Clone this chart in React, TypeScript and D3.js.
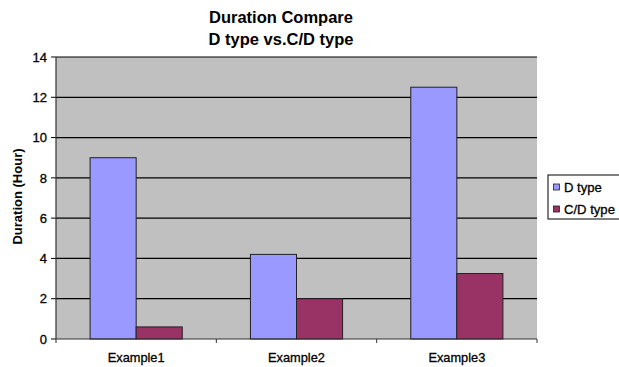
import React, { useEffect, useRef } from "react";
import * as d3 from "d3";

const categories = ["Example1", "Example2", "Example3"];
const seriesNames = ["D type", "C/D type"];
const dType = [9, 4.2, 12.5];
const cdType = [0.6, 2.0, 3.25];
const yTicks = [0, 2, 4, 6, 8, 10, 12, 14];
const colors = ["#9999ff", "#993366"];

export default function App() {
  const ref = useRef<SVGSVGElement>(null);
  useEffect(() => {
    const svg = d3.select(ref.current);
    svg.selectAll("*").remove();
    const W = 619, H = 367;
    const m = { l: 56, r: 537, t: 57, b: 339 };
    const font = "Liberation Sans, Arial, sans-serif";
    svg.append("rect").attr("width", W).attr("height", H).attr("fill", "#fff");

    const x = d3.scaleBand().domain(categories).range([m.l, m.r]).paddingInner(0).paddingOuter(0);
    const xs = d3.scaleBand().domain(seriesNames).range([0, x.bandwidth()]).paddingOuter(0.74).paddingInner(0);
    const y = d3.scaleLinear().domain([0, 14]).range([m.b, m.t]);

    svg.append("rect").attr("x", m.l).attr("y", m.t).attr("width", m.r - m.l).attr("height", m.b - m.t).attr("fill", "#c0c0c0");

    const txt = (sel: any) => sel.attr("font-family", font).attr("fill", "#000").attr("stroke", "#000").attr("stroke-width", 0.3);

    yTicks.forEach((t) => {
      if (t > 0) svg.append("line").attr("x1", m.l).attr("x2", m.r).attr("y1", y(t)).attr("y2", y(t)).attr("stroke", "#000").attr("stroke-width", 1.2);
      svg.append("line").attr("x1", m.l - 5).attr("x2", m.l).attr("y1", y(t)).attr("y2", y(t)).attr("stroke", "#000");
      txt(svg.append("text")).attr("x", 47).attr("y", y(t) + 4.7).attr("text-anchor", "end").attr("font-size", 13).text(String(t));
    });

    const series = [dType, cdType];
    categories.forEach((c, i) => {
      series.forEach((vals, s) => {
        svg.append("rect")
          .attr("x", (x(c) as number) + (xs(seriesNames[s]) as number))
          .attr("y", y(vals[i]))
          .attr("width", xs.bandwidth())
          .attr("height", y(0) - y(vals[i]))
          .attr("fill", colors[s])
          .attr("stroke", "#222")
          .attr("stroke-width", 1);
      });
      txt(svg.append("text")).attr("x", (x(c) as number) + x.bandwidth() / 2).attr("y", 362).attr("text-anchor", "middle").attr("font-size", 12.8).text(c);
    });

    // axes
    svg.append("line").attr("x1", m.l).attr("x2", m.l).attr("y1", m.t).attr("y2", m.b).attr("stroke", "#333").attr("stroke-width", 1.2);
    svg.append("line").attr("x1", m.l).attr("x2", m.r).attr("y1", m.b).attr("y2", m.b).attr("stroke", "#333").attr("stroke-width", 1.2);
    [...categories.map((c) => x(c) as number), m.r].forEach((xx) => {
      svg.append("line").attr("x1", xx).attr("x2", xx).attr("y1", m.b).attr("y2", m.b + 4).attr("stroke", "#333");
    });

    // title
    svg.append("text").attr("x", 281).attr("y", 23).attr("text-anchor", "middle").attr("font-family", font).attr("font-weight", "bold").attr("font-size", 16.5).text("Duration Compare");
    svg.append("text").attr("x", 281).attr("y", 45).attr("text-anchor", "middle").attr("font-family", font).attr("font-weight", "bold").attr("font-size", 16.5).text("D type vs.C/D type");

    // y label
    svg.append("text").attr("transform", `translate(22,${196.5}) rotate(-90)`).attr("text-anchor", "middle").attr("font-family", font).attr("font-weight", "bold").attr("font-size", 13).text("Duration (Hour)");

    // legend
    svg.append("rect").attr("x", 548).attr("y", 175).attr("width", 80).attr("height", 44).attr("fill", "#fff").attr("stroke", "#000");
    seriesNames.forEach((n, i) => {
      const yy = 187 + i * 22;
      svg.append("rect").attr("x", 553.5).attr("y", yy - 3).attr("width", 6).attr("height", 6).attr("fill", colors[i]).attr("stroke", "#222").attr("stroke-width", 0.8);
      txt(svg.append("text")).attr("x", 564).attr("y", yy + 5).attr("font-size", 13.1).text(n);
    });
  }, []);
  return <svg ref={ref} width={619} height={367} style={{ position: "absolute", left: 0, top: 0 }} />;
}
